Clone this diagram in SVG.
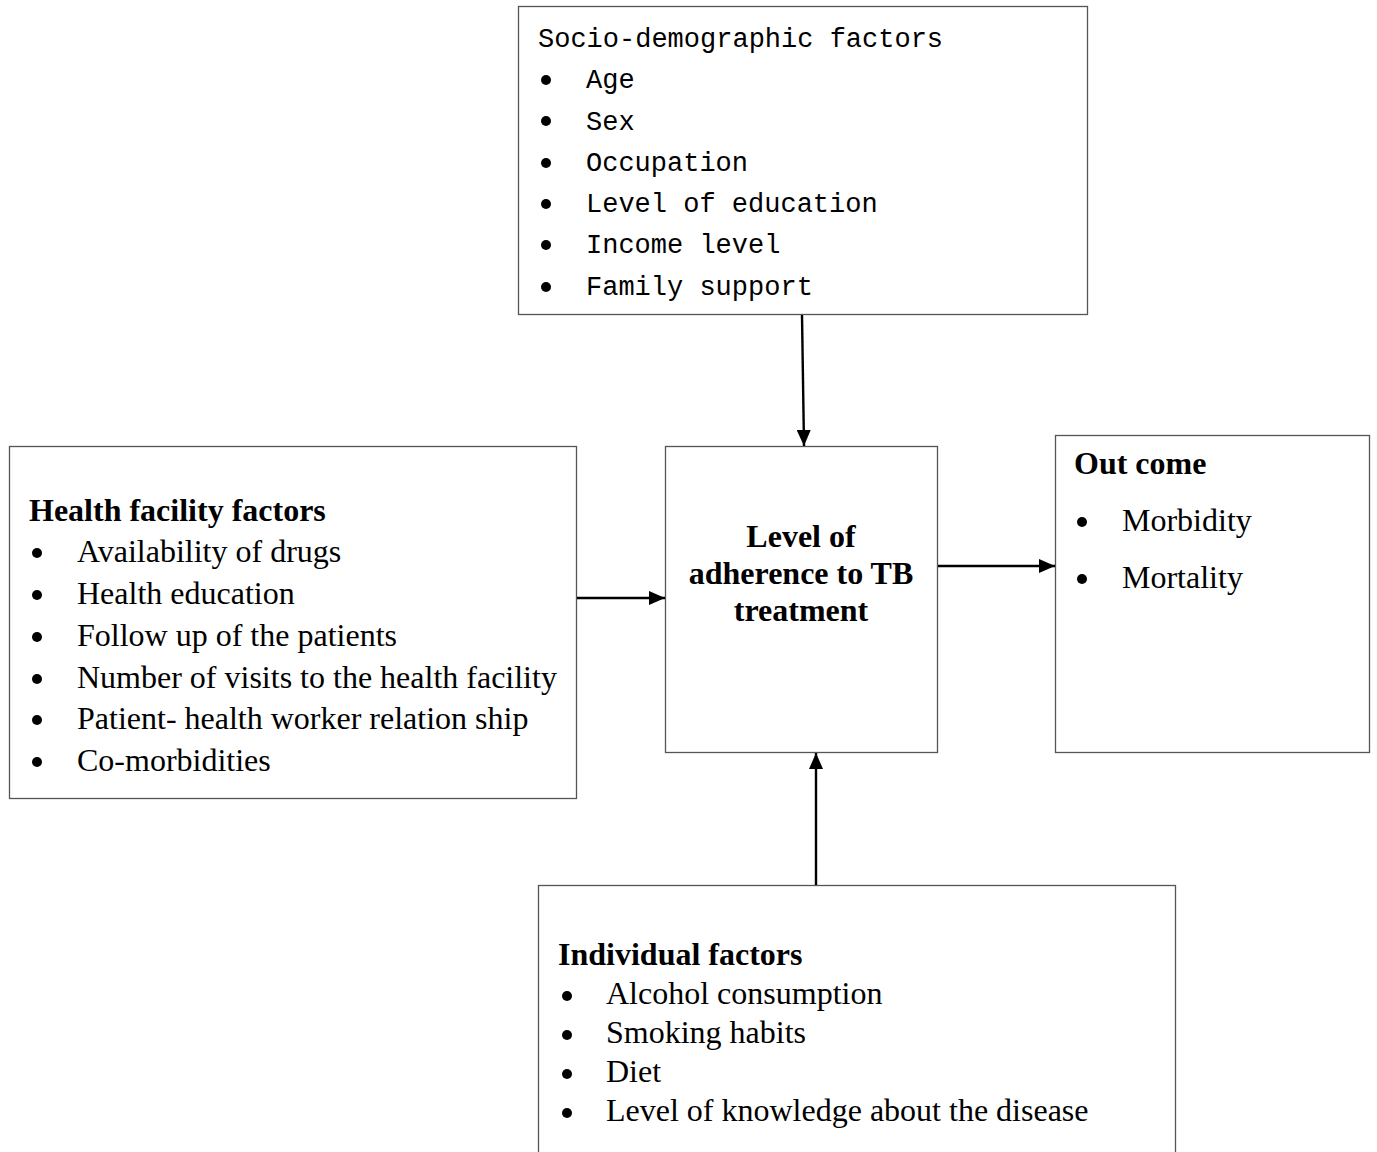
<svg xmlns="http://www.w3.org/2000/svg" width="1377" height="1152" viewBox="0 0 1377 1152">
<style>
.box{fill:#fff;stroke:#555;stroke-width:1.3}
.t{font-family:"Liberation Serif","Times New Roman",serif;font-size:32px;fill:#000}
.b{font-weight:bold}
.m{font-family:"Liberation Mono","Courier New",monospace;font-size:27px;fill:#000}
.bul{fill:#000}
.conn{stroke:#000;stroke-width:2.4;fill:none}
</style>
<defs>
<marker id="ahv" markerWidth="16" markerHeight="14" refX="16" refY="7" orient="auto" markerUnits="userSpaceOnUse">
<path d="M0,0 L16,7 L0,14 z" fill="#000"/>
</marker>
</defs>
<rect width="1377" height="1152" fill="#fff"/>
<g id="socio">
<rect class="box" x="518.5" y="6.5" width="569" height="308"/>
<text class="m" x="538" y="47">Socio-demographic factors</text>
<g class="bul"><circle cx="546" cy="80" r="5"/><circle cx="546" cy="121" r="5"/><circle cx="546" cy="163" r="5"/><circle cx="546" cy="204" r="5"/><circle cx="546" cy="245" r="5"/><circle cx="546" cy="287" r="5"/></g>
<text class="m" x="586" y="88">Age</text>
<text class="m" x="586" y="130">Sex</text>
<text class="m" x="586" y="171">Occupation</text>
<text class="m" x="586" y="212">Level of education</text>
<text class="m" x="586" y="253">Income level</text>
<text class="m" x="586" y="295">Family support</text>
</g>
<g id="health">
<rect class="box" x="9.5" y="446.5" width="567" height="352"/>
<text class="t b" x="29" y="521">Health facility factors</text>
<g class="bul"><circle cx="37" cy="553" r="5"/><circle cx="37" cy="595" r="5"/><circle cx="37" cy="637" r="5"/><circle cx="37" cy="679" r="5"/><circle cx="37" cy="720" r="5"/><circle cx="37" cy="762" r="5"/></g>
<text class="t" x="77" y="562">Availability of drugs</text>
<text class="t" x="77" y="604">Health education</text>
<text class="t" x="77" y="646">Follow up of the patients</text>
<text class="t" x="77" y="688">Number of visits to the health facility</text>
<text class="t" x="77" y="729">Patient- health worker relation ship</text>
<text class="t" x="77" y="771">Co-morbidities</text>
</g>
<g id="adherence">
<rect class="box" x="665.5" y="446.5" width="272" height="306"/>
<text class="t b" x="801" y="547" text-anchor="middle">Level of</text>
<text class="t b" x="801" y="584" text-anchor="middle">adherence to TB</text>
<text class="t b" x="801" y="621" text-anchor="middle">treatment</text>
</g>
<g id="outcome">
<rect class="box" x="1055.5" y="435.5" width="314" height="317"/>
<text class="t b" x="1074" y="474">Out come</text>
<g class="bul"><circle cx="1082" cy="522" r="5"/><circle cx="1082" cy="579" r="5"/></g>
<text class="t" x="1122" y="531">Morbidity</text>
<text class="t" x="1122" y="588">Mortality</text>
</g>
<g id="individual">
<rect class="box" x="538.5" y="885.5" width="637" height="280"/>
<text class="t b" x="558" y="965">Individual factors</text>
<g class="bul"><circle cx="567" cy="996" r="5"/><circle cx="567" cy="1035" r="5"/><circle cx="567" cy="1074" r="5"/><circle cx="567" cy="1113" r="5"/></g>
<text class="t" x="606" y="1004">Alcohol consumption</text>
<text class="t" x="606" y="1043">Smoking habits</text>
<text class="t" x="606" y="1082">Diet</text>
<text class="t" x="606" y="1121">Level of knowledge about the disease</text>
</g>
<g id="connectors">
<line class="conn" x1="802" y1="315" x2="804" y2="446" marker-end="url(#ahv)"/>
<line class="conn" x1="577" y1="598" x2="665" y2="598" marker-end="url(#ahv)"/>
<line class="conn" x1="938" y1="566" x2="1055" y2="566" marker-end="url(#ahv)"/>
<line class="conn" x1="816" y1="885" x2="816" y2="753" marker-end="url(#ahv)"/>
</g>
</svg>
